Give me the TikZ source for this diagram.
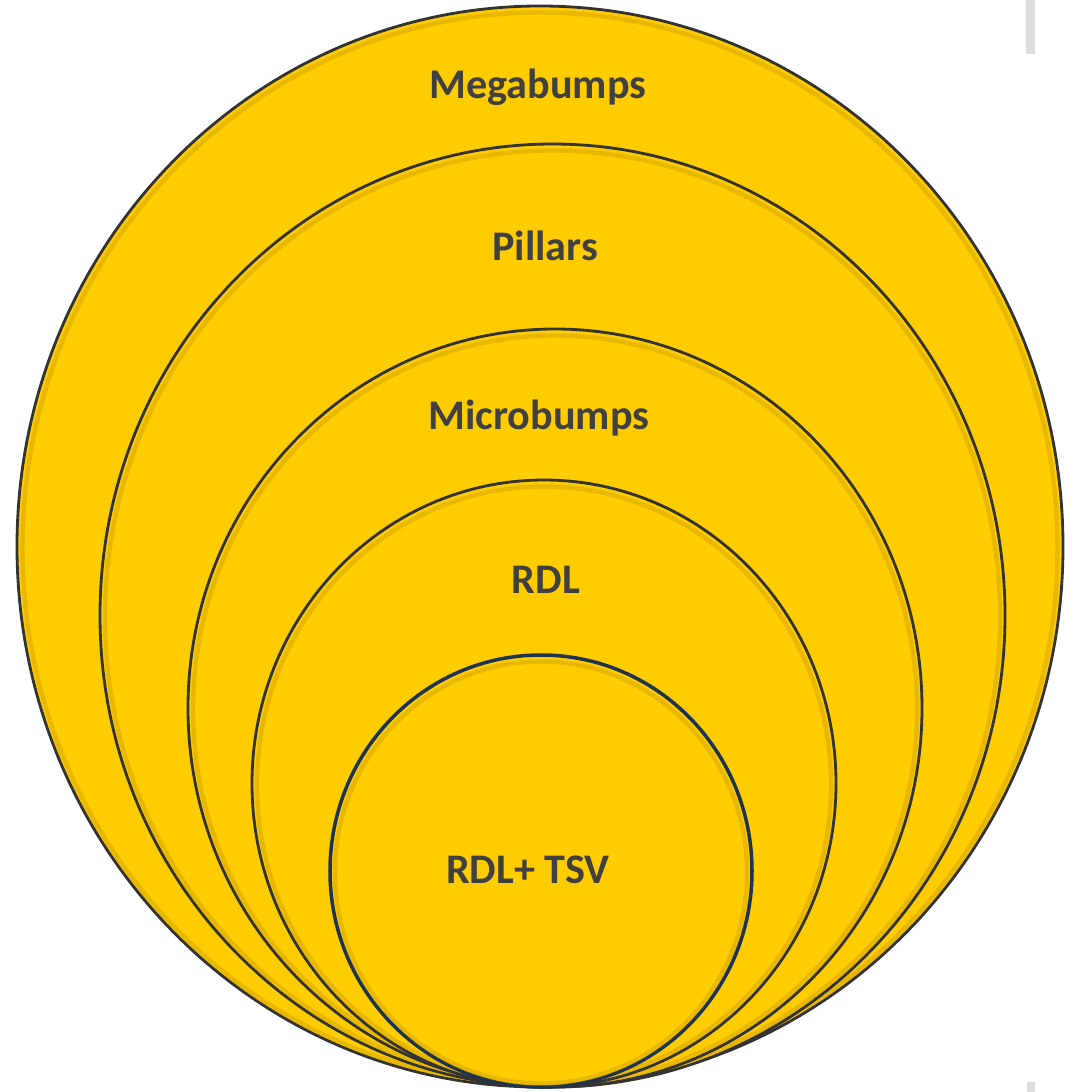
\documentclass[tikz,border=0pt]{standalone}
\usepackage{fontspec}
\setmainfont{Carlito}
\usepackage{xcolor}
\definecolor{gold}{RGB}{255,204,0}
\definecolor{goldrim}{RGB}{214,166,0}
\definecolor{rimline}{RGB}{51,51,51}
\definecolor{tsvline}{RGB}{30,52,78}
\definecolor{labelgray}{RGB}{64,64,64}
\definecolor{bargray}{RGB}{221,221,221}

\begin{document}
\begin{tikzpicture}[x=0.02cm,y=-0.02cm]
	\tikzstyle{ring}=[draw=rimline,line width=1.6pt,fill=gold]
	\tikzstyle{rim}=[draw=goldrim,line width=2.5pt,opacity=.55]
	\tikzstyle{tag}=[anchor=base,text=labelgray,font=\fontsize{24}{29}\selectfont\bfseries,inner sep=0pt]
	\useasboundingbox (0,0) rectangle (1067,1092);
	% stray bars on the right
	\fill[bargray] (1026,0) rectangle (1035,54);
	\fill[bargray] (1027,1082) rectangle (1035,1092);
	% nested rings, all touching at the bottom
	\draw[ring] (540,546.5) ellipse [x radius=523,y radius=540.5];
	\draw[rim] (540,548) ellipse [x radius=517.5,y radius=535.5];
	\draw[ring] (552.5,615.5) ellipse [x radius=452.5,y radius=471.5];
	\draw[rim] (552.5,617) ellipse [x radius=447.5,y radius=466.5];
	\draw[ring] (555,708) ellipse [x radius=367,y radius=379];
	\draw[rim] (555,709.5) ellipse [x radius=362,y radius=374];
	\draw[ring] (544,783.5) ellipse [x radius=292,y radius=303.5];
	\draw[rim] (544,785) ellipse [x radius=287,y radius=298.5];
	\draw[ring,draw=tsvline,line width=2pt] (541,871) ellipse [x radius=211,y radius=216];
	\draw[rim] (541,872.5) ellipse [x radius=206,y radius=211];
	% labels
	\node[tag] (mega) at (538,98) {Megabumps};
	\node[tag] (pill) at (545,260) {Pillars};
	\node[tag] (micro) at (539,429) {Microbumps};
	\node[tag] (rdl) at (546,593) {RDL};
	\node[tag] (tsv) at (528,883) {RDL+ TSV};
\end{tikzpicture}
\end{document}
